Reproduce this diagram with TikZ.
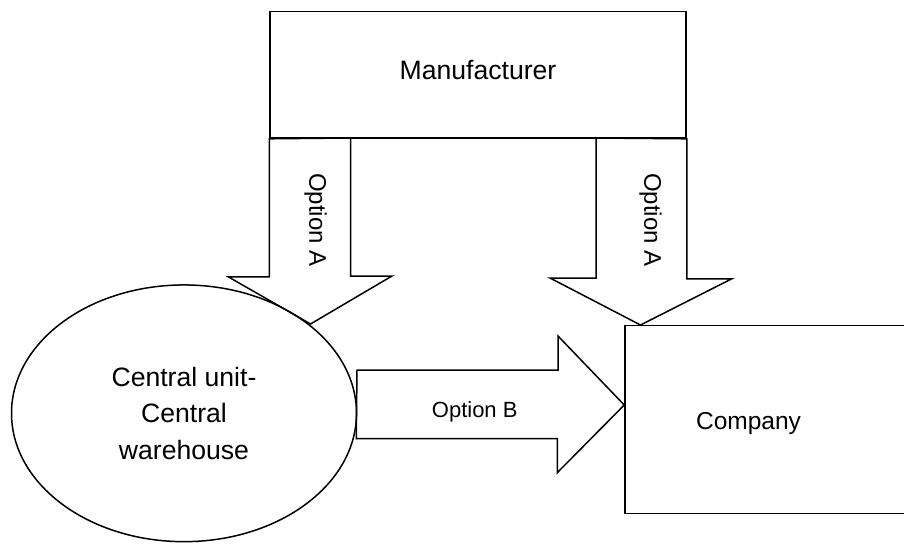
\documentclass[tikz,border=0pt]{standalone}
\usepackage{fontspec}
\setmainfont{Liberation Sans}
\usetikzlibrary{calc, shapes.geometric}

\tikzset{
	box/.style = {draw, rectangle, inner sep=0pt},
	blockarrow/.style = {draw, fill=white, line join=miter},
	vlabel/.style = {font=\fontsize{24}{28}\selectfont, rotate=-90}
}

\begin{document}
\begin{tikzpicture}[x=1pt, y=-1pt, line width=1.5pt]
		\useasboundingbox (0,0) rectangle (904,543);
		\clip (0,0) rectangle (904,543);
		
		\node[box, minimum width=416pt, minimum height=126.3pt,
			label={[yshift=5.3pt, font=\fontsize{26.6}{30}\selectfont]center:Manufacturer}] (manu) at (478,74.9) {};
		
		\node[draw, ellipse, minimum width=345pt, minimum height=256.7pt, inner sep=0pt,
			align=center, font=\fontsize{26.6}{36.3}\selectfont] (cw) at (184,413.3) {Central unit-\\Central\\warehouse};
		
		\node[box, minimum width=305pt, minimum height=187.8pt,
			label={[xshift=-29pt, yshift=-3.6pt, font=\fontsize{24.5}{28}\selectfont]center:Company}] (comp) at (777.5,419.4) {};
		
		% tips of the block arrows
		\coordinate (tipA1) at (310.5,324);
		\coordinate (tipA2) at (640.5,325);
		\coordinate (tipB) at (comp.west |- 0,405);
		
		\begin{scope}[blockarrow]
			\draw (manu.south west) -- ++(0,138) -- ++(-41,0) -- (tipA1) -- ++(81.5,-48) -- ++(-41.3,0) -- ++(0,-138) -- cycle;
			\draw (manu.south east) -- ++(0,140) -- ++(45,0) -- (tipA2) -- ++(-90.5,-47) -- ++(46,0) -- ++(0,-140) -- cycle;
			\draw (357,370) -- ++(201,0) -- ++(0,-34) -- (tipB) -- ++(-67,67.7) -- ++(0,-34) -- ++(-201,0) -- cycle;
		\end{scope}
		
		\node[vlabel] (optA1) at (315.5,220) {Option A};
		\node[vlabel] (optA2) at (650.5,220) {Option A};
		\node[font=\fontsize{22}{26}\selectfont] (optB) at (474.7,411.5) {Option B};
	\end{tikzpicture}
\end{document}
